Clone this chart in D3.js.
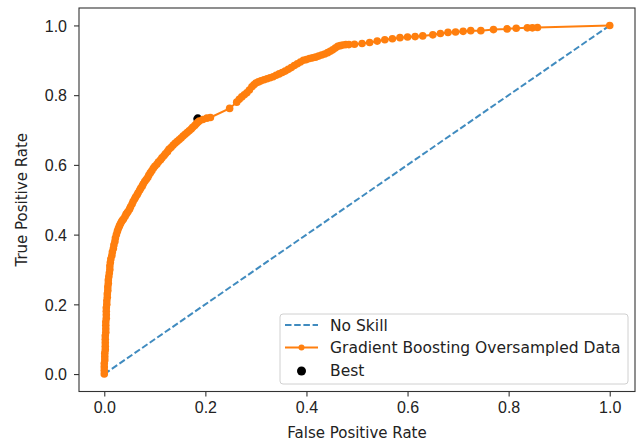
<!DOCTYPE html>
<html>
<head>
<meta charset="utf-8">
<script src="https://cdn.jsdelivr.net/npm/d3@7"></script>
<style>
  body { margin: 0; background: #fff; }
  svg { display: block; font-family: "DejaVu Sans", sans-serif; }
  .tick text { fill: #222; }
</style>
</head>
<body>
<svg id="chart" width="641" height="445"></svg>
<script>
// ROC curve: [false positive rate, true positive rate]
const rocPoints = [
  [0, 0], [0, 0.01], [0, 0.02], [0, 0.03], [0.001, 0.04], [0.001, 0.05], [0.001, 0.06], [0.002, 0.07],
  [0.002, 0.08], [0.002, 0.09], [0.002, 0.1], [0.002, 0.11], [0.003, 0.12], [0.003, 0.13], [0.003, 0.14],
  [0.003, 0.15], [0.004, 0.16], [0.004, 0.17], [0.004, 0.18], [0.004, 0.19], [0.005, 0.2], [0.005, 0.21],
  [0.006, 0.22], [0.006, 0.23], [0.007, 0.24], [0.007, 0.25], [0.008, 0.26], [0.008, 0.27], [0.009, 0.28],
  [0.01, 0.29], [0.011, 0.3], [0.011, 0.31], [0.012, 0.32], [0.013, 0.33], [0.015, 0.34], [0.016, 0.35],
  [0.018, 0.36], [0.019, 0.37], [0.021, 0.38], [0.022, 0.39], [0.024, 0.4], [0.026, 0.41], [0.028, 0.418],
  [0.03, 0.425], [0.032, 0.431], [0.034, 0.437], [0.036, 0.441], [0.038, 0.445], [0.041, 0.452],
  [0.043, 0.458], [0.045, 0.462], [0.047, 0.466], [0.05, 0.473], [0.052, 0.48], [0.055, 0.488],
  [0.057, 0.495], [0.06, 0.502], [0.062, 0.508], [0.065, 0.514], [0.067, 0.52], [0.07, 0.527],
  [0.072, 0.533], [0.075, 0.539], [0.077, 0.545], [0.08, 0.552], [0.083, 0.558], [0.086, 0.564],
  [0.088, 0.57], [0.091, 0.577], [0.094, 0.583], [0.097, 0.59], [0.1, 0.596], [0.104, 0.602],
  [0.107, 0.608], [0.111, 0.614], [0.114, 0.62], [0.118, 0.626], [0.121, 0.632], [0.125, 0.638],
  [0.128, 0.645], [0.132, 0.65], [0.136, 0.656], [0.14, 0.662], [0.144, 0.667], [0.148, 0.672],
  [0.152, 0.677], [0.156, 0.683], [0.16, 0.688], [0.164, 0.693], [0.168, 0.698], [0.172, 0.703],
  [0.175, 0.708], [0.179, 0.713], [0.182, 0.718], [0.185, 0.722], [0.188, 0.726], [0.195, 0.73],
  [0.203, 0.734], [0.21, 0.736], [0.248, 0.762], [0.262, 0.78], [0.267, 0.788], [0.272, 0.795],
  [0.277, 0.801], [0.282, 0.807], [0.287, 0.815], [0.292, 0.824], [0.296, 0.83], [0.3, 0.835],
  [0.305, 0.838], [0.31, 0.841], [0.316, 0.844], [0.322, 0.847], [0.328, 0.85], [0.334, 0.853],
  [0.34, 0.857], [0.346, 0.861], [0.352, 0.865], [0.358, 0.869], [0.364, 0.874], [0.37, 0.879],
  [0.376, 0.885], [0.382, 0.89], [0.388, 0.895], [0.394, 0.9], [0.4, 0.902], [0.406, 0.905],
  [0.412, 0.907], [0.418, 0.909], [0.424, 0.912], [0.43, 0.915], [0.436, 0.918], [0.442, 0.922],
  [0.447, 0.926], [0.452, 0.93], [0.457, 0.935], [0.462, 0.94], [0.467, 0.942], [0.472, 0.944],
  [0.478, 0.945], [0.484, 0.945], [0.495, 0.946], [0.51, 0.948], [0.525, 0.951], [0.54, 0.955],
  [0.555, 0.959], [0.57, 0.962], [0.585, 0.965], [0.6, 0.967], [0.615, 0.968], [0.63, 0.97],
  [0.65, 0.973], [0.665, 0.977], [0.68, 0.98], [0.695, 0.981], [0.71, 0.983], [0.725, 0.985],
  [0.745, 0.985], [0.77, 0.988], [0.797, 0.99], [0.815, 0.992], [0.837, 0.993], [0.847, 0.993],
  [0.857, 0.994], [1, 1]
];
const noSkill = [[0, 0], [1, 1]];
const best = [0.185, 0.732];
const ticks = [0, 0.2, 0.4, 0.6, 0.8, 1.0];
const legendLabels = ["No Skill", "Gradient Boosting Oversampled Data", "Best"];

const blue = "#1f77b4", orange = "#ff7f0e";
const margin = {top: 8, right: 6, bottom: 53.5, left: 79};
const W = 641, H = 445;
const width = W - margin.left - margin.right;
const height = H - margin.top - margin.bottom;

const svg = d3.select("#chart");
const g = svg.append("g").attr("transform", "translate(" + margin.left + "," + margin.top + ")");

const x = d3.scaleLinear().domain([-0.05, 1.05]).range([0, width]);
const y = d3.scaleLinear().domain([-0.05, 1.05]).range([height, 0]);

// axes
const xAxis = g.append("g")
  .attr("transform", "translate(0," + height + ")")
  .call(d3.axisBottom(x).tickValues(ticks).tickFormat(d3.format(".1f")).tickSize(5).tickPadding(5));
const yAxis = g.append("g")
  .call(d3.axisLeft(y).tickValues(ticks).tickFormat(d3.format(".1f")).tickSize(5).tickPadding(7));
[xAxis, yAxis].forEach(a => {
  a.select(".domain").remove();
  a.selectAll(".tick line").attr("stroke", "#333").attr("stroke-width", 1.1);
  a.selectAll(".tick text").style("font-size", "16px");
});
yAxis.selectAll(".tick text").attr("dy", "0.36em");

// best threshold point (drawn under the lines like matplotlib scatter)
g.append("circle")
  .attr("cx", x(best[0])).attr("cy", y(best[1]))
  .attr("r", 4.5).attr("fill", "#000");

// no skill
g.append("path")
  .datum(noSkill)
  .attr("d", d3.line().x(d => x(d[0])).y(d => y(d[1])))
  .attr("fill", "none").attr("stroke", blue).attr("stroke-opacity", 0.85).attr("stroke-width", 2)
  .attr("stroke-dasharray", "6.5,2.7");

// roc curve
g.append("path")
  .datum(rocPoints)
  .attr("d", d3.line().x(d => x(d[0])).y(d => y(d[1])))
  .attr("fill", "none").attr("stroke", orange).attr("stroke-width", 2);
g.selectAll("circle.pt")
  .data(rocPoints)
  .enter().append("circle")
  .attr("class", "pt")
  .attr("cx", d => x(d[0])).attr("cy", d => y(d[1]))
  .attr("r", 3.8).attr("fill", orange);

// frame
g.append("rect")
  .attr("width", width).attr("height", height)
  .attr("fill", "none").attr("stroke", "#333").attr("stroke-width", 1.1);

// axis labels
svg.append("text")
  .attr("x", margin.left + width / 2).attr("y", 438)
  .attr("text-anchor", "middle").style("font-size", "15px").attr("fill", "#222")
  .text("False Positive Rate");
svg.append("text")
  .attr("transform", "translate(27," + (margin.top + height / 2) + ") rotate(-90)")
  .attr("text-anchor", "middle").style("font-size", "15px").attr("fill", "#222")
  .text("True Positive Rate");

// legend
const lg = svg.append("g").attr("transform", "translate(280,314)");
lg.append("rect")
  .attr("width", 348).attr("height", 70).attr("rx", 3)
  .attr("fill", "#fff").attr("fill-opacity", 0.8)
  .attr("stroke", "#d0d0d0").attr("stroke-width", 1);
legendLabels.forEach((lab, i) => {
  const cy = 11 + i * 22.5;
  if (i === 0) {
    lg.append("line").attr("x1", 5).attr("x2", 38).attr("y1", cy).attr("y2", cy)
      .attr("stroke", blue).attr("stroke-opacity", 0.85).attr("stroke-width", 2).attr("stroke-dasharray", "6.5,2.7");
  } else if (i === 1) {
    lg.append("line").attr("x1", 5).attr("x2", 38).attr("y1", cy).attr("y2", cy)
      .attr("stroke", orange).attr("stroke-width", 2);
    lg.append("circle").attr("cx", 21.5).attr("cy", cy).attr("r", 3).attr("fill", orange);
  } else {
    lg.append("circle").attr("cx", 21.5).attr("cy", cy + 1).attr("r", 4.5).attr("fill", "#000");
  }
  lg.append("text").attr("x", 50).attr("y", cy).attr("dy", "0.36em")
    .style("font-size", "15.5px").attr("fill", "#222").text(lab);
});
</script>
</body>
</html>
